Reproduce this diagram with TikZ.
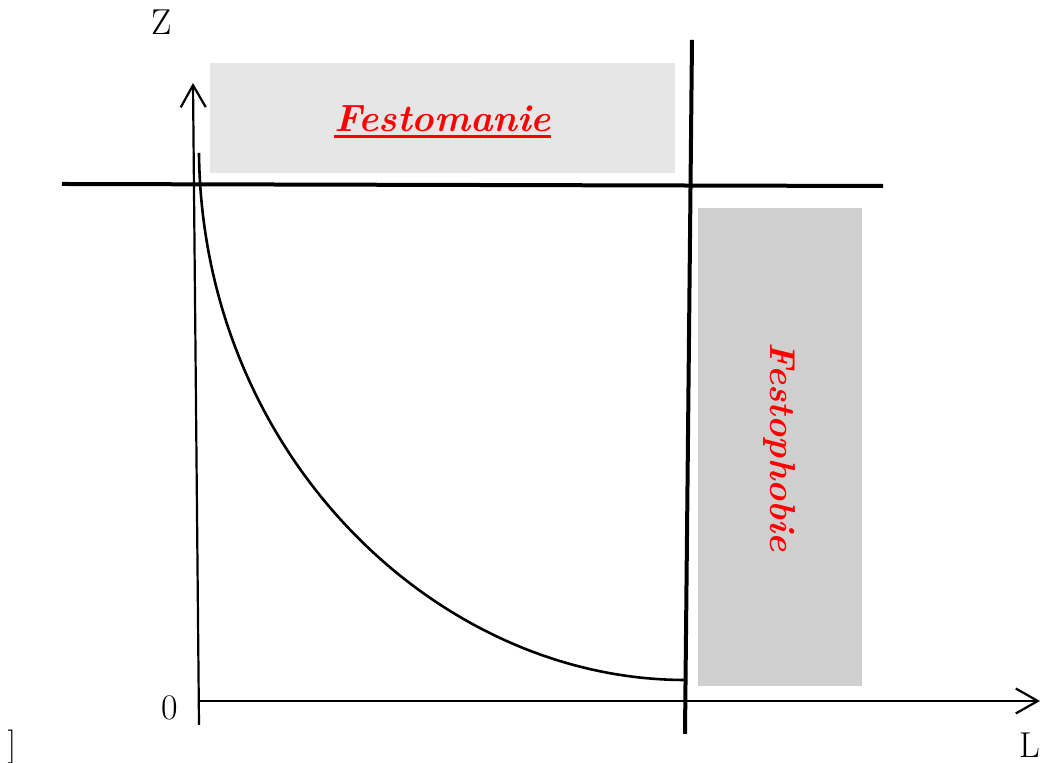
\documentclass[tikz,border=0pt]{standalone}
\usetikzlibrary{arrows.meta}
\definecolor{manzone}{HTML}{E6E6E6}
\definecolor{phobzone}{HTML}{D0CFD0}
\newcommand{\thickul}[1]{\setbox0\hbox{#1}\rlap{\rule[-3.5pt]{\wd0}{1.6pt}}\box0}
\begin{document}
\begin{tikzpicture}
    [x=5pt,y=5pt,
    axisline/.style={line width=1.1pt,-{Straight Barb[length=11pt,width=12.5pt,line width=1.1pt]}},
    bigline/.style={line width=2pt},
    axislabel/.style={font=\fontsize{18}{20}\selectfont},
    zonetext/.style={text=red,font=\fontsize{19}{23}\selectfont\bfseries\itshape,inner sep=0pt}]
    \useasboundingbox (-19.9,-6.2) rectangle (84.6,70.1);
    %zones
    \node[zonetext,fill=manzone,minimum width=232.5pt,minimum height=55pt] (mania) at (24.35,58.3) {\raisebox{-2pt}[\height][\depth]{\thickul{Festomanie}}};
    \node[zonetext,fill=phobzone,rotate=-90,font=\fontsize{18}{22}\selectfont\bfseries\itshape,minimum width=239pt,minimum height=82pt] (phobia) at (58.1,25.4) {Festophobie};
    %axes
    \coordinate (O) at (0,0);
    \coordinate (ybot) at (0,-2.4);
    \coordinate (ytop) at (-0.6,61.8);
    \coordinate (xend) at (84.1,0);
    \draw[axisline] (ybot)--(ytop);
    \draw[axisline] (O)--(xend);
    \node[axislabel] (zlab) at (-3.7,67.9) {Z};
    \node[axislabel] (olab) at (-2.9,-0.7) {0};
    \node[axislabel] (llab) at (83.1,-4.4) {L};
    \node[font=\fontsize{17}{19}\selectfont] (mark) at (-18.7,-4.6) {]};
    %limits
    \coordinate (hleft) at (-13.7,51.7);
    \coordinate (hright) at (68.4,51.5);
    \coordinate (vtop) at (49.3,66.1);
    \coordinate (vbot) at (48.6,-3.3);
    \draw[bigline] (hleft)--(hright);
    \draw[bigline] (vtop)--(vbot);
    %curve
    \coordinate (cstart) at (0,54.8);
    \coordinate (cend) at (48.6,2.1);
    \draw[line width=1.3pt] (cstart) .. controls (0.3,24.8) and (23.6,2.1) .. (cend);
\end{tikzpicture}
\end{document}
